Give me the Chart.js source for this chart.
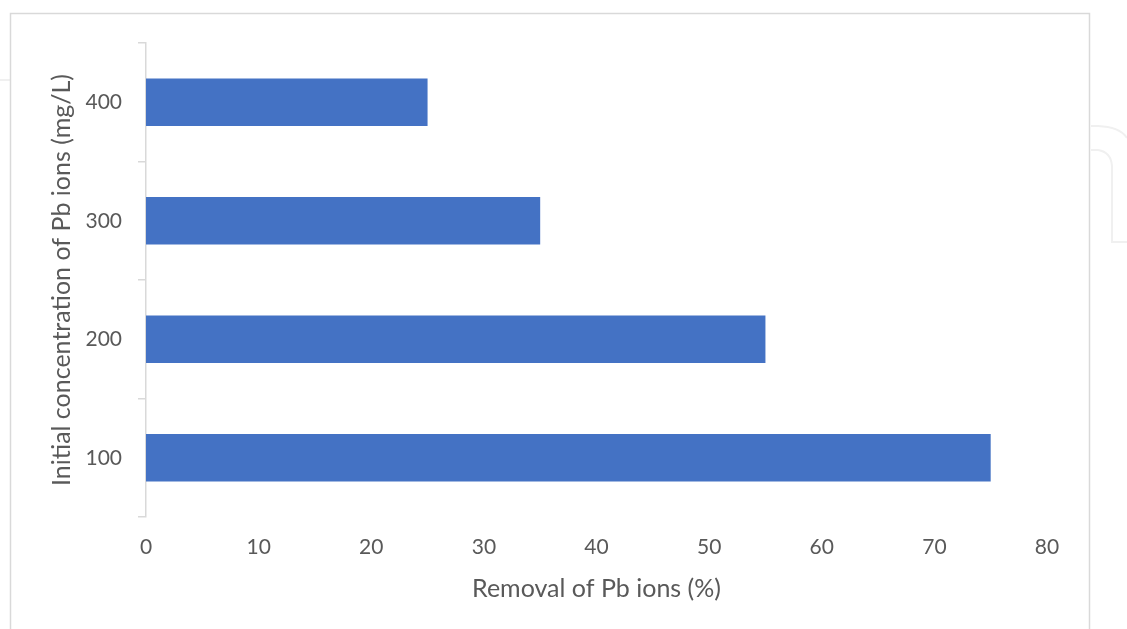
<!DOCTYPE html>
<html>
<head>
<meta charset="utf-8">
<script src="https://cdn.jsdelivr.net/npm/chart.js@4.4.1/dist/chart.umd.min.js"></script>
<style>
  html, body { margin: 0; padding: 0; background: #ffffff; }
  #wrap { position: relative; width: 1127px; height: 629px; }
</style>
</head>
<body>
<div id="wrap"><canvas id="c" width="1127" height="629"></canvas></div>
<script>
const categories = ['400', '300', '200', '100'];
const removalPercent = [25, 35, 55, 75];
const xTicks = [0, 10, 20, 30, 40, 50, 60, 70, 80];
const xTitle = 'Removal of Pb ions (%)';
const yTitle = 'Initial concentration of Pb ions (mg/L)';

const FONT = 'Lato, "Open Sans", sans-serif';
const TEXT = '#595959';

const framePlugin = {
  id: 'frame',
  beforeDraw(chart) {
    const ctx = chart.ctx;
    ctx.save();
    ctx.fillStyle = '#ffffff';
    ctx.fillRect(0, 0, chart.width, chart.height);
    // faint background watermark strokes
    ctx.strokeStyle = '#f0f0f0';
    ctx.lineWidth = 2;
    ctx.beginPath();
    ctx.moveTo(0, 80); ctx.lineTo(10, 80);
    ctx.moveTo(1091, 126); ctx.lineTo(1098, 126);
    ctx.quadraticCurveTo(1120, 127, 1127, 138);
    ctx.moveTo(1091, 150); ctx.lineTo(1098, 150);
    ctx.quadraticCurveTo(1111, 152, 1112, 166);
    ctx.lineTo(1112, 242); ctx.lineTo(1127, 242);
    ctx.stroke();
    // chart frame
    ctx.strokeStyle = '#d9d9d9';
    ctx.lineWidth = 1.5;
    ctx.strokeRect(10.5, 13.5, 1079, 700);
    ctx.restore();
  }
};

new Chart(document.getElementById('c'), {
  type: 'bar',
  data: {
    labels: categories,
    datasets: [{
      data: removalPercent,
      backgroundColor: '#4472C4',
      borderWidth: 0,
      categoryPercentage: 0.8,
      barPercentage: 0.5
    }]
  },
  plugins: [framePlugin],
  options: {
    indexAxis: 'y',
    responsive: false,
    animation: false,
    devicePixelRatio: 1,
    layout: { padding: { left: 0, top: 43, right: 80, bottom: 0 } },
    plugins: { legend: { display: false }, tooltip: { enabled: false } },
    scales: {
      x: {
        type: 'linear',
        min: 0,
        max: 80,
        afterBuildTicks(scale) { scale.ticks = xTicks.map(v => ({ value: v })); },
        afterFit(scale) { scale.height = 629 - 517; },
        grid: { display: false, drawTicks: false },
        border: { display: false },
        ticks: { color: TEXT, font: { family: FONT, size: 21 }, padding: 18, maxRotation: 0 },
        title: { display: true, text: xTitle, color: TEXT, font: { family: FONT, size: 25 }, padding: { top: 0, bottom: 25 } }
      },
      y: {
        type: 'category',
        afterFit(scale) { scale.width = 146; },
        grid: { offset: true, drawOnChartArea: false, drawTicks: true, tickLength: 8, color: '#d9d9d9', lineWidth: 1.5 },
        border: { display: true, color: '#d9d9d9', width: 1.5 },
        ticks: { color: TEXT, font: { family: FONT, size: 21 }, padding: 16 },
        title: { display: true, text: yTitle, color: TEXT, font: { family: FONT, size: 25 }, padding: { top: 47, bottom: 0 } }
      }
    }
  }
});
</script>
</body>
</html>
